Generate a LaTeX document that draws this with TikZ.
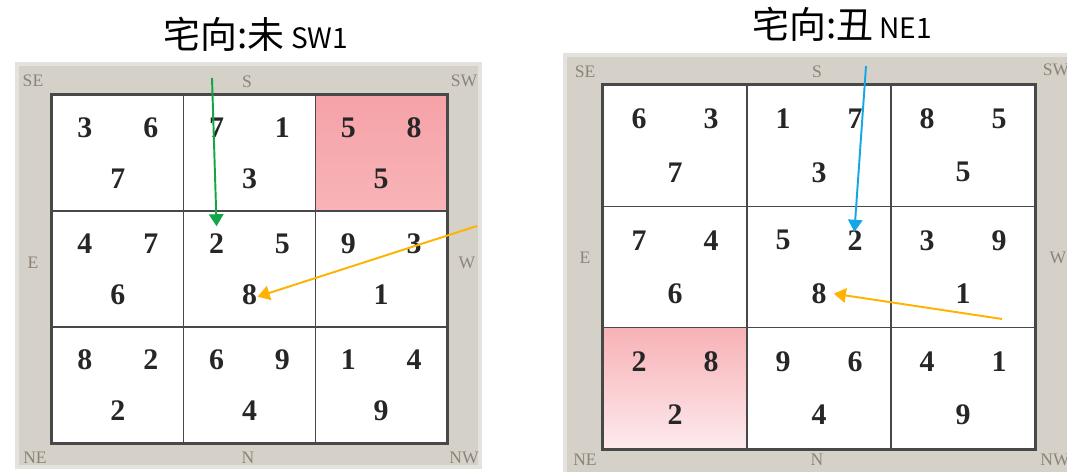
\documentclass[tikz,border=0pt]{standalone}
\usepackage{fontspec}
\setmainfont{Liberation Serif}
\newfontfamily\cjk{Noto Sans CJK SC}
\usetikzlibrary{arrows.meta}
\definecolor{matgray}{RGB}{213,209,201}
\definecolor{matedge}{RGB}{228,226,221}
\definecolor{gridline}{RGB}{72,72,72}
\definecolor{dirgray}{RGB}{138,132,122}
\definecolor{hotpink}{RGB}{245,162,168}
\definecolor{midpink}{RGB}{248,180,184}
\definecolor{topblush}{RGB}{247,178,182}
\definecolor{fadepink}{RGB}{253,234,238}
\definecolor{arrgreen}{RGB}{18,166,70}
\definecolor{arrblue}{RGB}{22,166,232}
\definecolor{arrorange}{RGB}{255,178,0}
\tikzset{
  mat/.style={fill=matgray, draw=matedge, line width=2pt},
  cellL/.style={draw=gridline, line width=0.9pt, inner sep=0pt,
                minimum width=2.633cm, minimum height=2.32cm},
  cellR/.style={draw=gridline, line width=0.9pt, inner sep=0pt,
                minimum width=2.88cm, minimum height=2.427cm},
  gridframe/.style={draw=gridline, line width=1.2pt},
  dig/.style={font=\fontsize{17}{17}\selectfont\bfseries, text=black!85, inner sep=4pt},
  dirlab/.style={font=\fontsize{10}{10}\selectfont, text=dirgray, inner sep=1pt},
  ttl/.style={font=\cjk\fontsize{21}{21}\selectfont, anchor=base, inner sep=0pt},
  grnarr/.style={-{Triangle[length=2.4mm, width=2.9mm]}, arrgreen, line width=1.1pt},
  bluarr/.style={-{Triangle[length=2.4mm, width=2.9mm]}, arrblue, line width=1.1pt},
  orgarr/.style={-{Triangle[length=2.4mm, width=2.9mm]}, arrorange, line width=1.1pt},
}

\begin{document}
\begin{tikzpicture}[x=0.02cm, y=-0.02cm]
  \useasboundingbox (0,0) rectangle (1067,472);
  \fill[white] (0,0) rectangle (1067,472);

  % --- left chart: facing wei (SW1)
  \filldraw[mat] (17,64) rectangle (480,467);
  \node[ttl] (tL) at (256,49) {宅向:未\,{\fontsize{16}{16}\selectfont SW1}};
  \foreach \c/\r/\a/\b/\m/\t/\u in {0/0/3/6/7/white/white, 1/0/7/1/3/white/white,
      2/0/5/8/5/hotpink/midpink, 0/1/4/7/6/white/white, 1/1/2/5/8/white/white,
      2/1/9/3/1/white/white, 0/2/8/2/2/white/white, 1/2/6/9/4/white/white,
      2/2/1/4/9/white/white}{
    \node[cellL, top color=\t, bottom color=\u] (L\c\r) at ({52+(\c+.5)*131.67}, {95+(\r+.5)*116}) {};
    \node[dig] (L\c\r-a) at ({52+(\c+.25)*131.67}, {95+(\r+.28)*116}) {\a};
    \node[dig] (L\c\r-b) at ({52+(\c+.75)*131.67}, {95+(\r+.28)*116}) {\b};
    \node[dig] (L\c\r-m) at ({52+(\c+.5)*131.67}, {95+(\r+.72)*116}) {\m};
  }
  \draw[gridframe] (L00.north west) rectangle (L22.south east);
  \node[dirlab] (lSE) at (33,81) {SE};
  \node[dirlab] (lS) at (247,82) {S};
  \node[dirlab] (lSW) at (464,81) {SW};
  \node[dirlab] (lE) at (33,263) {E};
  \node[dirlab] (lW) at (467,263) {W};
  \node[dirlab] (lNE) at (35,458) {NE};
  \node[dirlab] (lN) at (248,458) {N};
  \node[dirlab] (lNW) at (464,458) {NW};

  % --- right chart: facing chou (NE1)
  \filldraw[mat] (565,55) rectangle (1080,485);
  \node[ttl] (tR) at (842,39) {宅向:丑\,{\fontsize{16}{16}\selectfont NE1}};
  \foreach \c/\r/\a/\b/\m/\t/\u in {0/0/6/3/7/white/white, 1/0/1/7/3/white/white,
      2/0/8/5/5/white/white, 0/1/7/4/6/white/white, 1/1/5/2/8/white/white,
      2/1/3/9/1/white/white, 0/2/2/8/2/topblush/fadepink, 1/2/9/6/4/white/white,
      2/2/4/1/9/white/white}{
    \node[cellR, top color=\t, bottom color=\u] (R\c\r) at ({603+(\c+.5)*144}, {85+(\r+.5)*121.33}) {};
    \node[dig] (R\c\r-a) at ({603+(\c+.25)*144}, {85+(\r+.28)*121.33}) {\a};
    \node[dig] (R\c\r-b) at ({603+(\c+.75)*144}, {85+(\r+.28)*121.33}) {\b};
    \node[dig] (R\c\r-m) at ({603+(\c+.5)*144}, {85+(\r+.72)*121.33}) {\m};
  }
  \draw[gridframe] (R00.north west) rectangle (R22.south east);
  \node[dirlab] (rSE) at (585,72) {SE};
  \node[dirlab] (rS) at (817,72) {S};
  \node[dirlab] (rSW) at (1056,70) {SW};
  \node[dirlab] (rE) at (585,258) {E};
  \node[dirlab] (rW) at (1058,258) {W};
  \node[dirlab] (rNE) at (585,460) {NE};
  \node[dirlab] (rN) at (817,460) {N};
  \node[dirlab] (rNW) at (1055,460) {NW};

  % --- arrows
  \coordinate (Lgo) at (212,78);
  \coordinate (Loo) at (477,226);
  \coordinate (Rbo) at (866,66);
  \coordinate (Roo) at (1002,319);
  \draw[grnarr] (Lgo) -- (L11-a.north);
  \draw[orgarr, shorten >=-4pt] (Loo) -- (L11-m.east);
  \draw[bluarr, shorten >=-5pt] (Rbo) -- (R11-b.north);
  \draw[orgarr] (Roo) -- (R11-m.east);
\end{tikzpicture}
\end{document}
